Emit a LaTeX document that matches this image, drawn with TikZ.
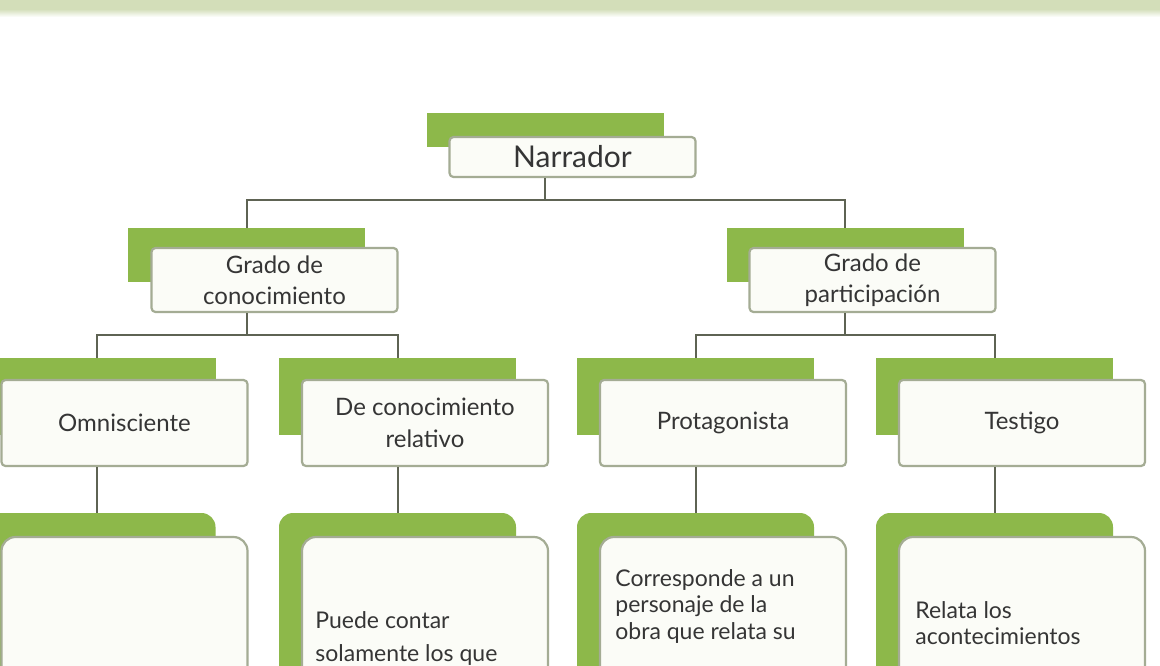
\documentclass[tikz,border=0pt]{standalone}
\usepackage{fontspec}
\setmainfont{Lato}
\usetikzlibrary{positioning}

\definecolor{leafgreen}{HTML}{8DB84A}
\definecolor{boxline}{HTML}{A4AC94}
\definecolor{boxfill}{HTML}{FBFCF7}
\definecolor{linkgray}{HTML}{5E6353}
\definecolor{bandgreen}{HTML}{D3DEB9}
\definecolor{inkgray}{HTML}{353535}

\tikzset{
  back/.style={fill=leafgreen, minimum width=118.5pt, inner sep=0pt},
  front/.style={draw=boxline, line width=1.1pt, fill=boxfill, rounded corners=2pt,
    minimum width=123pt, inner sep=0pt, align=center, text=inkgray},
  descback/.style={back, rounded corners=7pt, minimum height=130pt},
  descfront/.style={front, rounded corners=7pt, minimum height=130pt},
  desc/.style={align=left, inner sep=0pt, text=inkgray, anchor=north west,
    font=\fontsize{11.5}{13.3}\selectfont},
  link/.style={draw=linkgray, line width=1pt}
}

\begin{document}
\begin{tikzpicture}[x=0.5pt, y=-0.5pt]
        \clip (0,0) rectangle (1160,665);
        \fill[white] (0,0) rectangle (1160,665);

        % band at the top
        \fill[bandgreen] (0,0) rectangle (1160,9);
        \shade[top color=bandgreen, bottom color=white] (0,9) rectangle (1160,17);

        % first level
        \node[back, minimum height=17pt] (narrBack) at (545,130) {};
        \node[front, minimum height=20pt, font=\fontsize{15}{18}\selectfont] (narr) at (572.5,157) {Narrador};

        % second level
        \node[back, minimum height=27pt] (conoBack) at (246.5,255) {};
        \node[front, minimum height=32pt, font=\fontsize{12}{15.5}\selectfont] (cono) at (274.5,280) {Grado de\\conocimiento};
        \node[back, minimum height=27pt] (partBack) at (845,255) {};
        \node[front, minimum height=32pt, font=\fontsize{12}{15.5}\selectfont] (part) at (872.5,280) {Grado de\\participación};

        % third level
        \node[back, minimum height=38.5pt] (omniBack) at (97,396.5) {};
        \node[front, minimum height=43pt, font=\fontsize{12}{16}\selectfont] (omni) at (124.5,423) {Omnisciente};
        \node[back, minimum height=38.5pt] (relBack) at (397.5,396.5) {};
        \node[front, minimum height=43pt, font=\fontsize{12}{16}\selectfont] (rel) at (425,423) {De conocimiento\\relativo};
        \node[back, minimum height=38.5pt] (protaBack) at (695.5,396.5) {};
        \node[front, minimum height=43pt, font=\fontsize{12}{16}\selectfont] (prota) at (723,423) {Protagonista};
        \node[back, minimum height=38.5pt] (testBack) at (994.5,396.5) {};
        \node[front, minimum height=43pt, font=\fontsize{12}{16}\selectfont] (test) at (1022,423) {Testigo};

        % fourth level
        \node[descback] (omniDescBack) at (97,643) {};
        \node[descfront] (omniDesc) at (124.5,667) {};
        \node[descback] (relDescBack) at (397.5,643) {};
        \node[descfront] (relDesc) at (425,667) {};
        \node[descback] (protaDescBack) at (695.5,643) {};
        \node[descfront] (protaDesc) at (723,667) {};
        \node[descback] (testDescBack) at (994.5,643) {};
        \node[descfront] (testDesc) at (1022,667) {};

        \node[desc, font=\fontsize{11.5}{16.5}\selectfont] (relText) at (315,611) {Puede contar\\solamente los que};
        \node[desc] (protaText) at (615,569) {Corresponde a un\\personaje de la\\obra que relata su};
        \node[desc] (testText) at (915,601) {Relata los\\acontecimientos};

        % connectors
        \coordinate (busA) at (0,200);
        \coordinate (busB) at (0,335);
        \draw[link] (narr.south -| narrBack) -- (busA -| narrBack);
        \draw[link] (conoBack.north) -- (busA -| conoBack) -- (busA -| partBack) -- (partBack.north);

        \draw[link] (cono.south -| conoBack) -- (busB -| conoBack);
        \draw[link] (omniBack.north) -- (busB -| omniBack) -- (busB -| relBack) -- (relBack.north);
        \draw[link] (part.south -| partBack) -- (busB -| partBack);
        \draw[link] (protaBack.north) -- (busB -| protaBack) -- (busB -| testBack) -- (testBack.north);

        \draw[link] (omni.south -| omniBack) -- (omniDescBack.north);
        \draw[link] (rel.south -| relBack) -- (relDescBack.north);
        \draw[link] (prota.south -| protaBack) -- (protaDescBack.north);
        \draw[link] (test.south -| testBack) -- (testDescBack.north);
    \end{tikzpicture}
\end{document}
